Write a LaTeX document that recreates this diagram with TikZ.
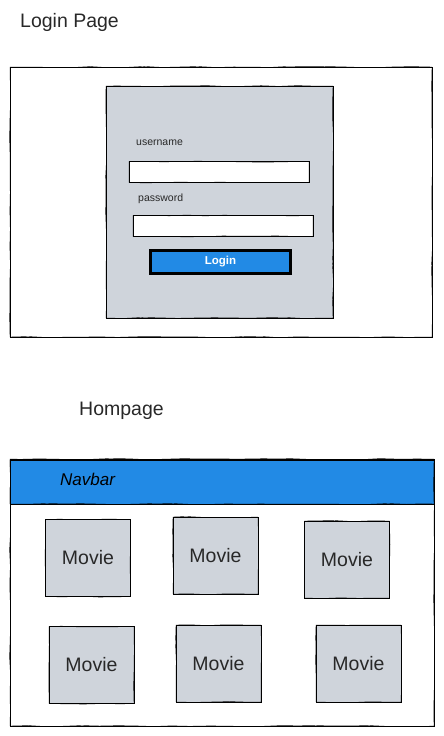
\documentclass[tikz,border=0pt]{standalone}
\usepackage{fontspec}
\setmainfont{Liberation Sans}
\usetikzlibrary{decorations.pathmorphing}
\definecolor{panelgrey}{RGB}{207,212,219}
\definecolor{navblue}{RGB}{34,138,229}
\definecolor{txtgrey}{RGB}{40,40,40}
\tikzset{
  sketch/.style={draw=black, line width=0.8pt,
    postaction={draw, line width=0.4pt, decorate,
      decoration={random steps, segment length=18pt, amplitude=0.6pt}}},
  frame/.style={sketch, rectangle, inner sep=0pt},
  moviebox/.style={frame, fill=panelgrey, minimum width=85pt, minimum height=77pt,
    font=\fontsize{19.5}{22}\selectfont, text=txtgrey},
  inputbox/.style={frame, fill=white, minimum width=180pt, minimum height=21pt},
  smalllabel/.style={font=\fontsize{10.5}{12}\selectfont, text=txtgrey, anchor=west, inner sep=0pt},
  title/.style={font=\fontsize{19.5}{22}\selectfont, text=txtgrey, anchor=west, inner sep=0pt}
}
\begin{document}
\begin{tikzpicture}[x=1pt,y=-1pt]
\useasboundingbox (0,0) rectangle (444,736);
% Login page
\node[title] (logintitle) at (20,22) {Login Page};
\node[frame, minimum width=422pt, minimum height=270pt] (loginframe) at (221,202) {};
\node[frame, fill=panelgrey, minimum width=227pt, minimum height=232pt] (panel) at (219.5,202) {};
\node[smalllabel] (userlbl) at (136,143) {username};
\node[inputbox] (userbox) at (219,172) {};
\node[smalllabel] (passlbl) at (138,199) {password};
\node[inputbox] (passbox) at (223,226) {};
\node[frame, fill=navblue, line width=2.4pt, minimum width=140pt, minimum height=23pt,
  text=white, font=\bfseries\fontsize{11.5}{13}\selectfont] (loginbtn) at (220.5,262) {Login};
% Homepage
\node[title] (hometitle) at (79,411) {Hompage};
\node[frame, minimum width=424pt, minimum height=267pt] (homeframe) at (222,592.5) {};
\node[frame, fill=navblue, minimum width=424pt, minimum height=44pt] (navbar) at (222,482) {};
\node[anchor=west, inner sep=0pt, font=\itshape\fontsize{17}{19}\selectfont] (navlbl) at (60,479) {Navbar};
\node[moviebox] (m1) at (88,558) {Movie};
\node[moviebox] (m2) at (215.5,555.5) {Movie};
\node[moviebox] (m3) at (347,559.5) {Movie};
\node[moviebox] (m4) at (91.5,665) {Movie};
\node[moviebox] (m5) at (218.5,663.5) {Movie};
\node[moviebox] (m6) at (358.5,663.5) {Movie};
\end{tikzpicture}
\end{document}
